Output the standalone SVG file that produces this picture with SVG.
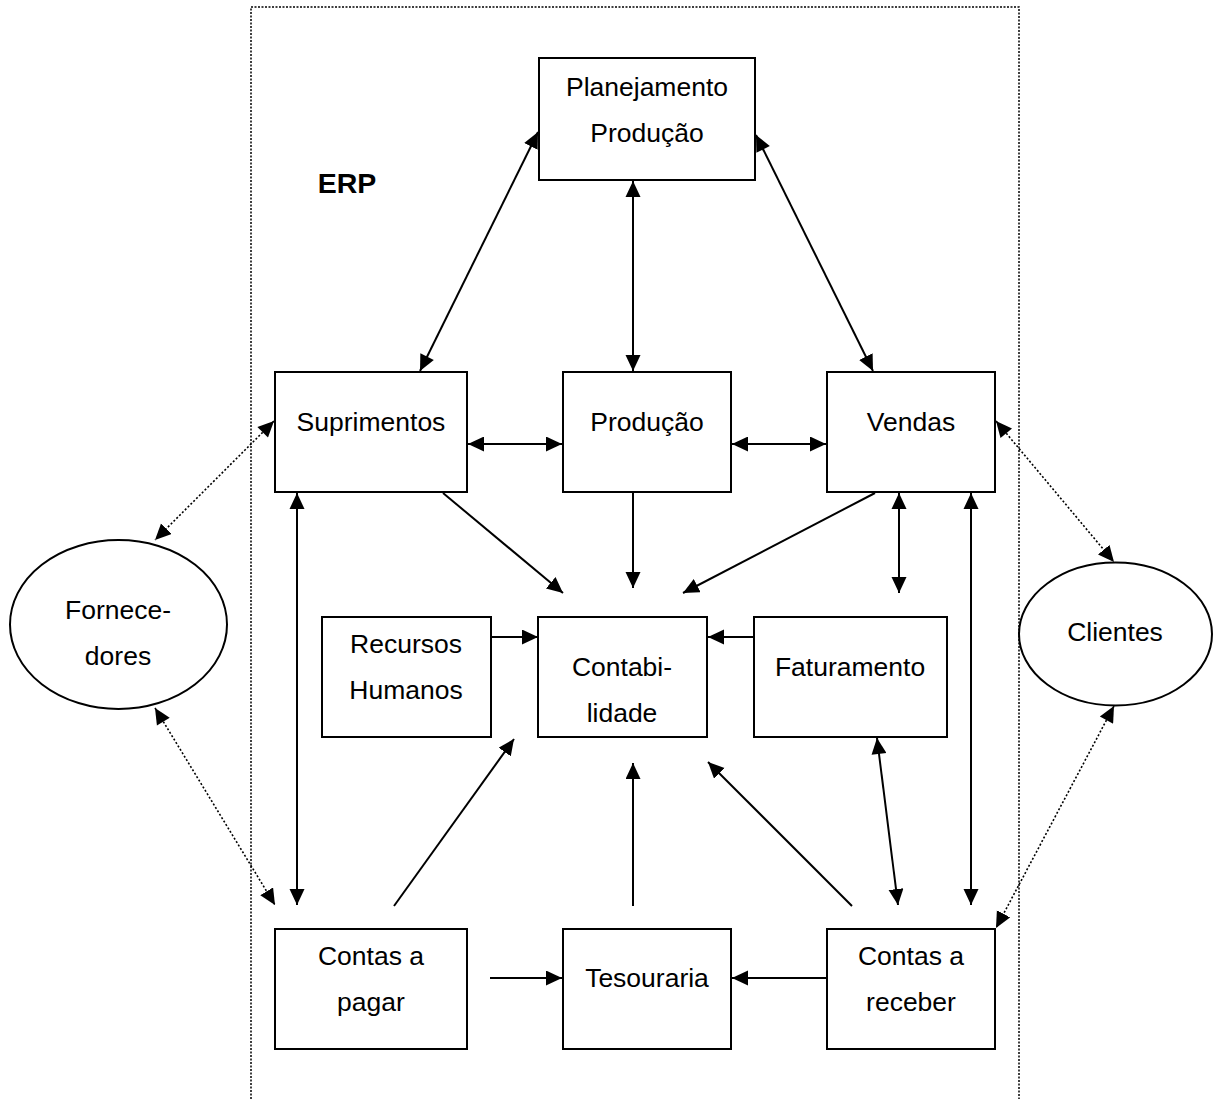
<svg xmlns="http://www.w3.org/2000/svg" width="1218" height="1099" viewBox="0 0 1218 1099">
<style>
.box{fill:#fff;stroke:#000;stroke-width:2}
.ell{fill:#fff;stroke:#000;stroke-width:2}
.t{font-family:"Liberation Sans",Arial,sans-serif;font-size:26.5px;fill:#000;text-anchor:middle}
.b{font-weight:bold;font-size:28.5px}
.c{stroke:#000;stroke-width:2;fill:none}
.d{stroke:#000;stroke-width:1.6;fill:none;stroke-dasharray:2 2}
.bd{stroke:#000;stroke-width:1.5;fill:none;stroke-dasharray:2 1.5}
</style>
<defs>
<marker id="ae" markerUnits="userSpaceOnUse" markerWidth="18" markerHeight="18" refX="16" refY="7.5" orient="auto"><path d="M0,0 L16,7.5 L0,15 z" fill="#000"/></marker>
<marker id="as" markerUnits="userSpaceOnUse" markerWidth="18" markerHeight="18" refX="0" refY="7.5" orient="auto"><path d="M16,0 L0,7.5 L16,15 z" fill="#000"/></marker>
</defs>
<rect width="1218" height="1099" fill="#fff"/>
<path class="bd" d="M251,1099 V7 H1019 V1099"/>
<text class="t b" x="347" y="193">ERP</text>
<g id="connectors">
<line class="c" x1="420" y1="371" x2="538" y2="132" marker-start="url(#as)" marker-end="url(#ae)"/>
<line class="c" x1="633" y1="181" x2="633" y2="371" marker-start="url(#as)" marker-end="url(#ae)"/>
<line class="c" x1="756" y1="135" x2="873" y2="371" marker-start="url(#as)" marker-end="url(#ae)"/>
<line class="c" x1="468" y1="444" x2="562" y2="444" marker-start="url(#as)" marker-end="url(#ae)"/>
<line class="c" x1="732" y1="444" x2="826" y2="444" marker-start="url(#as)" marker-end="url(#ae)"/>
<line class="c" x1="443" y1="493" x2="563" y2="593" marker-end="url(#ae)"/>
<line class="c" x1="633" y1="493" x2="633" y2="588" marker-end="url(#ae)"/>
<line class="c" x1="875" y1="493" x2="683" y2="593" marker-end="url(#ae)"/>
<line class="c" x1="899" y1="493" x2="899" y2="593" marker-start="url(#as)" marker-end="url(#ae)"/>
<line class="c" x1="971" y1="493" x2="971" y2="905" marker-start="url(#as)" marker-end="url(#ae)"/>
<line class="c" x1="297" y1="493" x2="297" y2="905" marker-start="url(#as)" marker-end="url(#ae)"/>
<line class="c" x1="877" y1="738" x2="898" y2="905" marker-start="url(#as)" marker-end="url(#ae)"/>
<line class="c" x1="394" y1="906" x2="514" y2="739" marker-end="url(#ae)"/>
<line class="c" x1="633" y1="906" x2="633" y2="763" marker-end="url(#ae)"/>
<line class="c" x1="852" y1="906" x2="708" y2="762" marker-end="url(#ae)"/>
<line class="c" x1="490" y1="978" x2="562" y2="978" marker-end="url(#ae)"/>
<line class="c" x1="827" y1="978" x2="732" y2="978" marker-end="url(#ae)"/>
<line class="c" x1="491" y1="637" x2="538" y2="637" marker-end="url(#ae)"/>
<line class="c" x1="754" y1="637" x2="708" y2="637" marker-end="url(#ae)"/>
<line class="d" x1="274" y1="421" x2="155" y2="540" marker-start="url(#as)" marker-end="url(#ae)"/>
<line class="d" x1="155" y1="708" x2="275" y2="905" marker-start="url(#as)" marker-end="url(#ae)"/>
<line class="d" x1="996" y1="421" x2="1114" y2="562" marker-start="url(#as)" marker-end="url(#ae)"/>
<line class="d" x1="1114" y1="706" x2="996" y2="928" marker-start="url(#as)" marker-end="url(#ae)"/>
</g>
<g id="planejamento"><rect class="box" x="539" y="58" width="216" height="122"/><text class="t" x="647" y="96">Planejamento</text><text class="t" x="647" y="142">Produção</text></g>
<g id="suprimentos"><rect class="box" x="275" y="372" width="192" height="120"/><text class="t" x="371" y="431">Suprimentos</text></g>
<g id="producao"><rect class="box" x="563" y="372" width="168" height="120"/><text class="t" x="647" y="431">Produção</text></g>
<g id="vendas"><rect class="box" x="827" y="372" width="168" height="120"/><text class="t" x="911" y="431">Vendas</text></g>
<g id="rh"><rect class="box" x="322" y="617" width="169" height="120"/><text class="t" x="406" y="653">Recursos</text><text class="t" x="406" y="699">Humanos</text></g>
<g id="contabilidade"><rect class="box" x="538" y="617" width="169" height="120"/><text class="t" x="622" y="676">Contabi-</text><text class="t" x="622" y="722">lidade</text></g>
<g id="faturamento"><rect class="box" x="754" y="617" width="193" height="120"/><text class="t" x="850" y="676">Faturamento</text></g>
<g id="contaspagar"><rect class="box" x="275" y="929" width="192" height="120"/><text class="t" x="371" y="965">Contas a</text><text class="t" x="371" y="1011">pagar</text></g>
<g id="tesouraria"><rect class="box" x="563" y="929" width="168" height="120"/><text class="t" x="647" y="987">Tesouraria</text></g>
<g id="contasreceber"><rect class="box" x="827" y="929" width="168" height="120"/><text class="t" x="911" y="965">Contas a</text><text class="t" x="911" y="1011">receber</text></g>
<g id="fornecedores"><ellipse class="ell" cx="118.5" cy="624.5" rx="108.5" ry="84.5"/><text class="t" x="118" y="619">Fornece-</text><text class="t" x="118" y="665">dores</text></g>
<g id="clientes"><ellipse class="ell" cx="1115.5" cy="634" rx="96.5" ry="71.5"/><text class="t" x="1115" y="641">Clientes</text></g>
</svg>
